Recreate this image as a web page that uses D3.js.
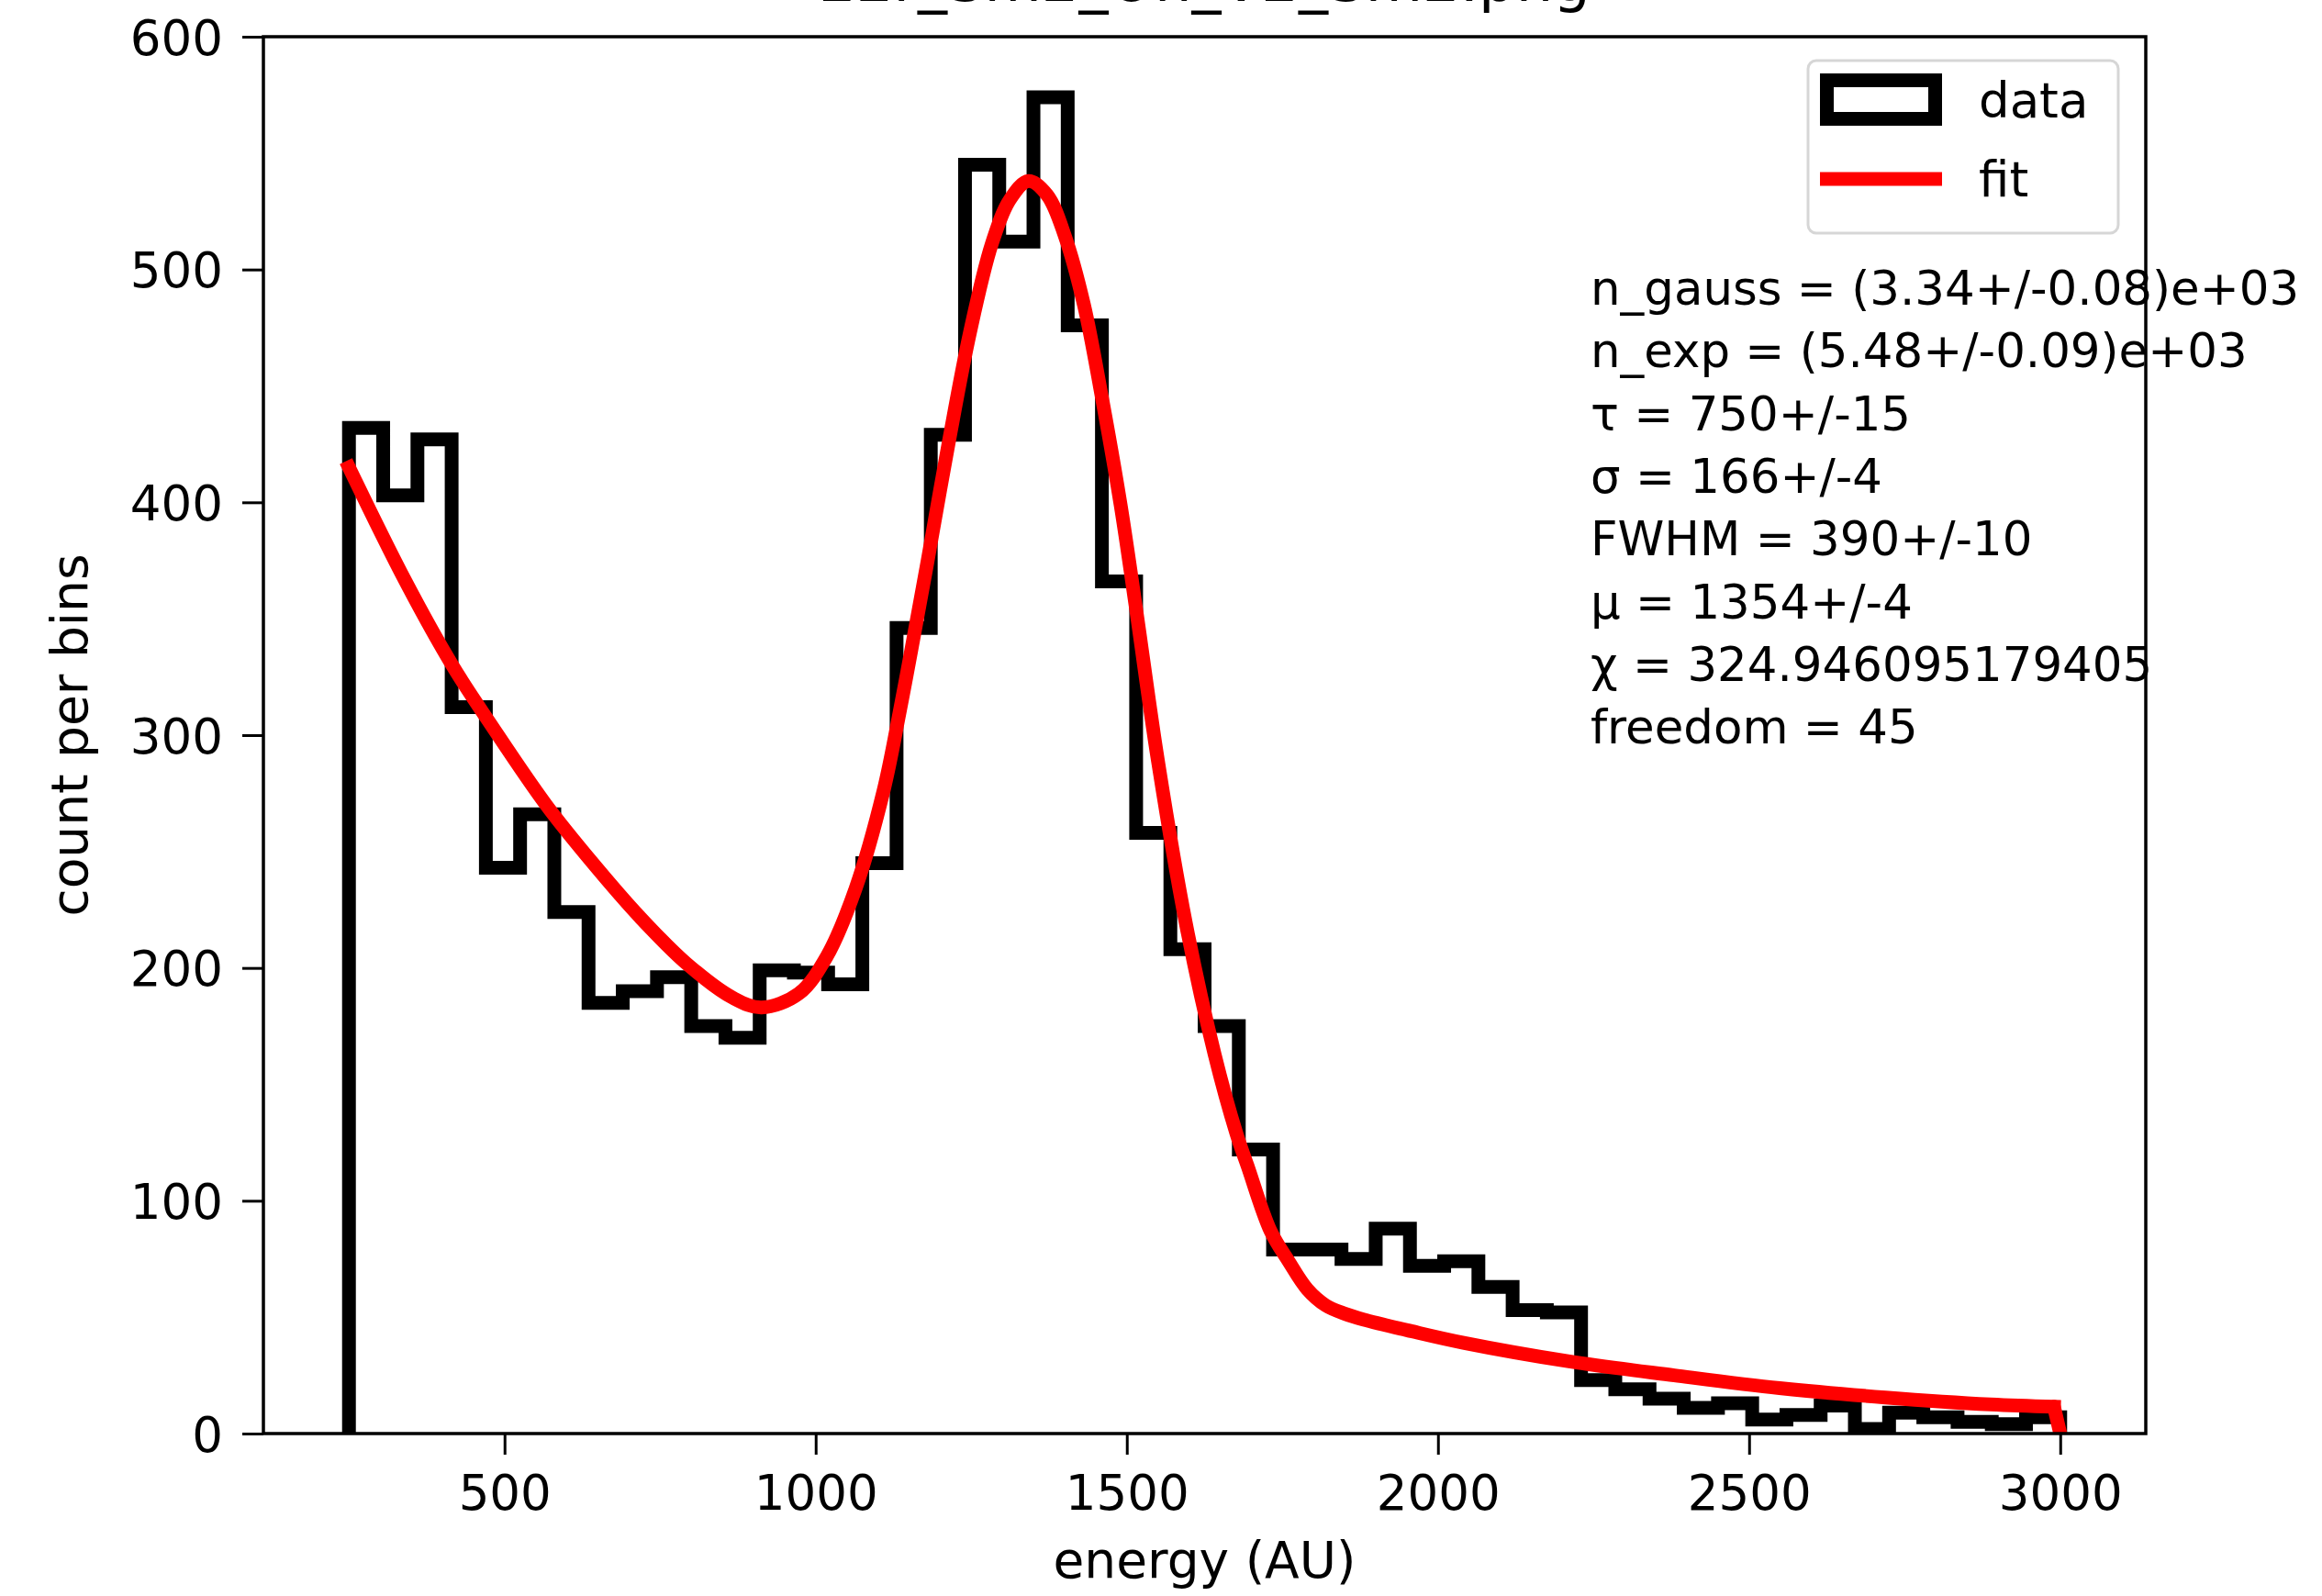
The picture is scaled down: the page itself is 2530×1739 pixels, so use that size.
<!DOCTYPE html>
<html>
<head>
<meta charset="utf-8">
<script src="https://cdn.jsdelivr.net/npm/d3@7"></script>
<style>
  html, body { margin: 0; padding: 0; background: #ffffff; }
  svg { display: block; }
  text { font-family: "DejaVu Sans", sans-serif; fill: #000; }
</style>
</head>
<body>
<script>
// ---------------- data ----------------
const titleText = "22r_Sm2_On_V2_Sm2.png";
const xLabel = "energy (AU)";
const yLabel = "count per bins";

const binEdges = [250, 305, 360, 415, 470, 525, 580, 635, 690, 745,
                  800, 855, 910, 965, 1020, 1075, 1130, 1185, 1240, 1295,
                  1350, 1405, 1460, 1515, 1570, 1625, 1680, 1735, 1790, 1845,
                  1900, 1955, 2010, 2065, 2120, 2175, 2230, 2285, 2340, 2395,
                  2450, 2505, 2560, 2615, 2670, 2725, 2780, 2835, 2890, 2945, 3000];

const counts = [432, 403, 427, 312, 243, 266, 224, 185, 190, 196,
                175, 170, 199, 198, 193, 245, 346, 429, 545, 512,
                574, 476, 366, 258, 208, 175, 122, 79, 79, 75,
                88, 72, 74, 63, 53, 52, 23, 19, 15, 11,
                13, 6, 8, 12, 2, 9, 7, 5, 4, 7];

const fitX = [250, 341, 416, 477, 567, 642, 717, 792, 868, 913,
              973, 1018, 1064, 1109, 1135, 1154, 1180, 1214, 1248, 1283,
              1312, 1342, 1372, 1401, 1431, 1460, 1490, 1515, 1550, 1595,
              1641, 1676, 1694, 1731, 1760, 1790, 1820, 1850, 1880, 1957,
              2041, 2211, 2380, 2549, 2719, 2888, 2990, 3000];
const fitY = [415, 366, 330, 305, 270, 245, 222, 202, 187, 183,
              189, 205, 234, 276, 310, 337, 375, 426, 473, 511,
              530, 538, 532, 514, 485, 445, 399, 354, 289, 219,
              163, 129, 115, 87, 74, 62, 55, 51.5, 49, 44,
              39, 31, 25, 19.5, 15.5, 12.5, 11.5, 0];

const xTicks = [500, 1000, 1500, 2000, 2500, 3000];
const yTicks = [0, 100, 200, 300, 400, 500, 600];
const xDomain = [112.5, 3137.5];
const yDomain = [0, 600];

const legendLabels = ["data", "fit"];
const annotationLines = [
  "n_gauss = (3.34+/-0.08)e+03",
  "n_exp = (5.48+/-0.09)e+03",
  "\u03c4 = 750+/-15",
  "\u03c3 = 166+/-4",
  "FWHM = 390+/-10",
  "\u03bc = 1354+/-4",
  "\u03c7 = 324.946095179405",
  "freedom = 45"
];

// ---------------- layout ----------------
const W = 2530, H = 1739;
const L = 287, R = 2338, T = 40, B = 1562;
const tickFont = 53, labelFont = 55, titleFont = 64, noteFont = 51.4;
const lw = 15;

const svg = d3.select("body").append("svg")
  .attr("width", W).attr("height", H)
  .attr("viewBox", `0 0 ${W} ${H}`);

svg.append("rect").attr("width", W).attr("height", H).attr("fill", "#fff");

const x = d3.scaleLinear().domain(xDomain).range([L, R]);
const y = d3.scaleLinear().domain(yDomain).range([B, T]);

svg.append("defs").append("clipPath").attr("id", "plotclip")
  .append("rect").attr("x", L).attr("y", T).attr("width", R - L).attr("height", B - T);

const plot = svg.append("g").attr("clip-path", "url(#plotclip)");

// histogram (step outline)
const histPts = [[binEdges[0], 0]];
counts.forEach((c, i) => histPts.push([binEdges[i], c]));
histPts.push([binEdges[binEdges.length - 1], counts[counts.length - 1]]);
histPts.push([binEdges[binEdges.length - 1], 0]);

const stepLine = d3.line()
  .x(d => x(d[0])).y(d => y(d[1]))
  .curve(d3.curveStepAfter);

plot.append("path")
  .attr("d", stepLine(histPts))
  .attr("fill", "none")
  .attr("stroke", "#000")
  .attr("stroke-width", lw)
  .attr("stroke-linejoin", "miter")
  .attr("stroke-linecap", "butt");

// fit curve: smooth part + final drop at the range end
const fitPts = fitX.map((v, i) => [v, fitY[i]]);
const smoothPts = fitPts.slice(0, fitPts.length - 1);
const dropPts = fitPts.slice(fitPts.length - 2);

const fitSmooth = d3.line()
  .x(d => x(d[0])).y(d => y(d[1]))
  .curve(d3.curveCatmullRom.alpha(0.5));
const fitLinear = d3.line()
  .x(d => x(d[0])).y(d => y(d[1]));

const fitG = plot.append("g")
  .attr("fill", "none")
  .attr("stroke", "#ff0000")
  .attr("stroke-width", lw)
  .attr("stroke-linejoin", "round");
fitG.append("path").attr("d", fitSmooth(smoothPts)).attr("stroke-linecap", "square");
fitG.append("path").attr("d", fitLinear(dropPts)).attr("stroke-linecap", "round");

// axes
const xAxis = svg.append("g")
  .attr("transform", `translate(0,${B})`)
  .call(d3.axisBottom(x).tickValues(xTicks).tickSize(23).tickPadding(22)
        .tickFormat(d3.format("d")));
const yAxis = svg.append("g")
  .attr("transform", `translate(${L},0)`)
  .call(d3.axisLeft(y).tickValues(yTicks).tickSize(23).tickPadding(21)
        .tickFormat(d3.format("d")));

[xAxis, yAxis].forEach(g => {
  g.select(".domain").remove();
  g.selectAll(".tick line").attr("stroke", "#000").attr("stroke-width", 3);
  g.selectAll(".tick text")
    .style("font-family", "'DejaVu Sans', sans-serif")
    .style("font-size", tickFont + "px")
    .attr("fill", "#000");
});
yAxis.selectAll(".tick text").attr("dy", "0.36em");

// spines
svg.append("rect")
  .attr("x", L).attr("y", T).attr("width", R - L).attr("height", B - T)
  .attr("fill", "none").attr("stroke", "#000").attr("stroke-width", 3.5);

// axis labels
svg.append("text")
  .attr("x", (L + R) / 2).attr("y", 1719)
  .attr("text-anchor", "middle")
  .style("font-size", labelFont + "px")
  .text(xLabel);

svg.append("text")
  .attr("transform", `translate(95,${(T + B) / 2}) rotate(-90)`)
  .attr("text-anchor", "middle")
  .style("font-size", labelFont + "px")
  .text(yLabel);

// title (mostly above the canvas, as in the reference)
svg.append("text")
  .attr("x", (L + R) / 2).attr("y", 1)
  .attr("text-anchor", "middle")
  .style("font-size", titleFont + "px")
  .text(titleText);

// legend
const leg = svg.append("g");
leg.append("rect")
  .attr("x", 1970).attr("y", 66).attr("width", 338).attr("height", 188)
  .attr("rx", 9).attr("ry", 9)
  .attr("fill", "#fff").attr("fill-opacity", 0.8)
  .attr("stroke", "#cccccc").attr("stroke-opacity", 0.8).attr("stroke-width", 3);
leg.append("rect")
  .attr("x", 1990.5).attr("y", 87.5).attr("width", 118).attr("height", 42)
  .attr("fill", "#fff").attr("stroke", "#000").attr("stroke-width", lw)
  .attr("stroke-linejoin", "miter");
leg.append("line")
  .attr("x1", 1983).attr("x2", 2116).attr("y1", 195).attr("y2", 195)
  .attr("stroke", "#ff0000").attr("stroke-width", lw);
leg.selectAll("text.leg").data(legendLabels).enter().append("text")
  .attr("class", "leg")
  .attr("x", 2156)
  .attr("y", (d, i) => 128 + i * 86)
  .style("font-size", tickFont + "px")
  .text(d => d);

// fit-parameter annotation
svg.append("g").selectAll("text").data(annotationLines).enter().append("text")
  .attr("x", 1733)
  .attr("y", (d, i) => 332 + i * 68.3)
  .style("font-size", noteFont + "px")
  .text(d => d);
</script>
</body>
</html>
